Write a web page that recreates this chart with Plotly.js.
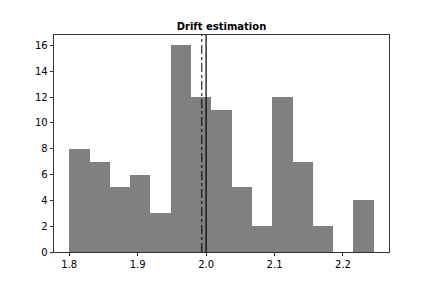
<!DOCTYPE html>
<html>
<head>
<meta charset="utf-8">
<script src="https://cdn.plot.ly/plotly-3.0.1.min.js"></script>
<style>html,body{margin:0;padding:0;background:#fff;}#chart{width:432px;height:288px;}</style>
</head>
<body>
<div id="chart"></div>
<script>
// Histogram counts (15 equal bins)
const counts = [8, 7, 5, 6, 3, 16, 12, 11, 5, 2, 12, 7, 2, 0, 4];
const binStart = 1.8;
const binEnd = 2.245;
const meanEstimate = 1.9937;   // dash-dot line
const trueDrift = 2.0;         // solid line
const xTicks = [1.8, 1.9, 2.0, 2.1, 2.2];
const yTicks = [0, 2, 4, 6, 8, 10, 12, 14, 16];

const binWidth = (binEnd - binStart) / counts.length;
const centers = counts.map((_, i) => binStart + binWidth * (i + 0.5));
const span = binEnd - binStart;
const maxCount = Math.max(...counts);

const trace = {
  type: 'bar',
  x: centers,
  y: counts,
  width: counts.map(() => binWidth),
  marker: {color: '#808080', line: {width: 0}},
  hoverinfo: 'skip'
};

const font = {family: 'DejaVu Sans', size: 10, color: '#000'};

const layout = {
  width: 432, height: 288,
  margin: {l: 54, r: 43, t: 35, b: 36, pad: 0},
  paper_bgcolor: '#fff', plot_bgcolor: '#fff',
  showlegend: false,
  font: font,
  title: {text: '<b>Drift estimation</b>', font: {family: 'DejaVu Sans', size: 10, color: '#000'},
          x: 0.5, xanchor: 'center', xref: 'paper', y: 1, yref: 'paper', yanchor: 'bottom', pad: {b: 5}},
  xaxis: {
    range: [binStart - 0.05 * span, binEnd + 0.05 * span],
    tickvals: xTicks, ticktext: xTicks.map(v => v.toFixed(1)),
    ticks: 'outside', ticklen: 3.5, tickwidth: 0.8, tickcolor: '#000',
    showline: true, mirror: true, linecolor: '#000', linewidth: 0.8,
    showgrid: false, zeroline: false, tickfont: font
  },
  yaxis: {
    range: [0, maxCount * 1.05],
    tickvals: yTicks, ticktext: yTicks.map(String),
    ticks: 'outside', ticklen: 3.5, tickwidth: 0.8, tickcolor: '#000',
    showline: true, mirror: true, linecolor: '#000', linewidth: 0.8,
    showgrid: false, zeroline: false, tickfont: font
  },
  bargap: 0,
  shapes: [
    {type: 'line', xref: 'x', yref: 'paper', x0: meanEstimate, x1: meanEstimate, y0: 0, y1: 1,
     line: {color: '#000', width: 1, dash: 'dashdot'}},
    {type: 'line', xref: 'x', yref: 'paper', x0: trueDrift, x1: trueDrift, y0: 0, y1: 1,
     line: {color: '#000', width: 1.2}}
  ]
};

Plotly.newPlot('chart', [trace], layout, {staticPlot: true, displayModeBar: false});
</script>
</body>
</html>
